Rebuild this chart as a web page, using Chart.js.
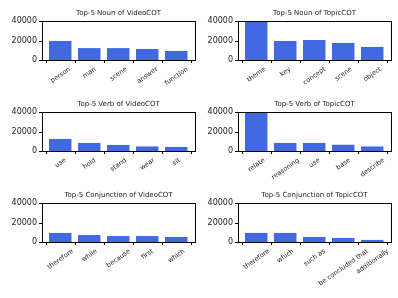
<!DOCTYPE html>
<html>
<head>
<meta charset="utf-8">
<script src="https://cdn.jsdelivr.net/npm/chart.js@4"></script>
<style>
  body { margin: 0; background: #fff; }
  #wrap { position: relative; width: 398px; height: 298px; }
  .panel { position: absolute; }
</style>
</head>
<body>
<div id="wrap"></div>
<script>
// data
const nounVideoLabels = ['person', 'man', 'scene', 'answer', 'function'];
const nounVideoValues = [19600, 12200, 12200, 11400, 9400];

const nounTopicLabels = ['theme', 'key', 'concept', 'scene', 'object'];
const nounTopicValues = [39300, 19600, 20500, 17800, 13500];

const verbVideoLabels = ['use', 'hold', 'stand', 'wear', 'sit'];
const verbVideoValues = [12500, 8400, 6400, 5000, 4400];

const verbTopicLabels = ['relate', 'reasoning', 'use', 'base', 'describe'];
const verbTopicValues = [39800, 8400, 8400, 6600, 5000];

const conjVideoLabels = ['therefore', 'while', 'because', 'first', 'which'];
const conjVideoValues = [9400, 7100, 6100, 6100, 5400];

const conjTopicLabels = ['therefore', 'which', 'such as', 'be concluded that', 'additionally'];
const conjTopicValues = [9500, 9500, 5400, 4400, 2300];

const yTicks = [0, 20000, 40000];

const panels = [
  { title: 'Top-5 Noun of VideoCOT', labels: nounVideoLabels, values: nounVideoValues, left: 0, top: 0, h: 95 },
  { title: 'Top-5 Noun of TopicCOT', labels: nounTopicLabels, values: nounTopicValues, left: 196, top: 0, h: 95 },
  { title: 'Top-5 Verb of VideoCOT', labels: verbVideoLabels, values: verbVideoValues, left: 0, top: 91, h: 95 },
  { title: 'Top-5 Verb of TopicCOT', labels: verbTopicLabels, values: verbTopicValues, left: 196, top: 91, h: 95 },
  { title: 'Top-5 Conjunction of VideoCOT', labels: conjVideoLabels, values: conjVideoValues, left: 0, top: 182, h: 116 },
  { title: 'Top-5 Conjunction of TopicCOT', labels: conjTopicLabels, values: conjTopicValues, left: 196, top: 182, h: 116 }
];

const FONT = 'DejaVu Sans';
const ROT = 35 * Math.PI / 180;
const XPAD = 4; // matplotlib-like margin between frame and outer bars

// full box around the plot area, y tick marks, title centred over it
const frame = {
  id: 'frame',
  afterDraw(chart, args, opts) {
    const a = chart.chartArea, ctx = chart.ctx;
    const l = Math.round(a.left - XPAD), r = Math.round(a.right + XPAD);
    ctx.save();
    ctx.strokeStyle = '#000';
    ctx.lineWidth = 1;
    ctx.strokeRect(l + 0.5, Math.round(a.top) + 0.5, r - l, Math.round(a.bottom - a.top));
    const sy = chart.scales.y;
    ctx.beginPath();
    yTicks.forEach(v => {
      const y = Math.round(sy.getPixelForValue(v)) + 0.5;
      ctx.moveTo(l + 0.5, y);
      ctx.lineTo(l - 3, y);
    });
    ctx.stroke();
    ctx.font = '7px "' + FONT + '"';
    ctx.fillStyle = '#222';
    ctx.textAlign = 'center';
    ctx.textBaseline = 'bottom';
    ctx.fillText(opts.text, (l + r) / 2, a.top - 4);
    ctx.restore();
  }
};

// rotated x labels centred under each tick, like matplotlib
const xLabels = {
  id: 'xLabels',
  afterDraw(chart) {
    const sx = chart.scales.x, ctx = chart.ctx;
    ctx.save();
    ctx.font = '6.5px "' + FONT + '"';
    ctx.fillStyle = '#222';
    ctx.textAlign = 'center';
    ctx.textBaseline = 'middle';
    const th = 6.5;
    chart.data.labels.forEach((lab, i) => {
      const w = ctx.measureText(lab).width;
      const x = sx.getPixelForTick(i);
      const bh = w * Math.sin(ROT) + th * Math.cos(ROT);
      const y = chart.chartArea.bottom + 6 + bh / 2;
      ctx.save();
      ctx.translate(x, y);
      ctx.rotate(-ROT);
      ctx.fillText(lab, 0, 0);
      ctx.restore();
    });
    ctx.restore();
  }
};

const wrap = document.getElementById('wrap');

panels.forEach(p => {
  const w = p.left === 0 ? 199 : 202;
  const c = document.createElement('canvas');
  c.className = 'panel';
  c.style.left = p.left + 'px';
  c.style.top = p.top + 'px';
  c.style.width = w + 'px';
  c.style.height = p.h + 'px';
  c.width = w;
  c.height = p.h;
  wrap.appendChild(c);

  new Chart(c, {
    type: 'bar',
    data: {
      labels: p.labels,
      datasets: [{
        data: p.values,
        backgroundColor: '#4169e1',
        borderColor: '#a9b9ef',
        borderWidth: { left: 0, top: 0, bottom: 0, right: 1 },
        barPercentage: 0.8,
        categoryPercentage: 1
      }]
    },
    options: {
      responsive: false,
      animation: false,
      layout: { padding: { top: 21, right: (p.left === 0 ? 4 : 7) + XPAD, left: 0, bottom: 0 } },
      plugins: {
        legend: { display: false },
        tooltip: { enabled: false },
        title: { display: false },
        frame: { text: p.title }
      },
      scales: {
        x: {
          grid: { display: true, drawOnChartArea: false, tickLength: 3, color: '#000' },
          border: { display: false },
          ticks: { display: false },
          afterFit(scale) { scale.height = p.h - 60; }
        },
        y: {
          min: 0,
          max: 40000,
          grid: { display: false, drawTicks: false },
          border: { display: false },
          afterBuildTicks(scale) { scale.ticks = yTicks.map(v => ({ value: v })); },
          ticks: {
            color: '#222',
            padding: 5 + XPAD,
            font: { family: FONT, size: 8 },
            callback: v => String(v)
          },
          afterFit(scale) { scale.width = 42 + XPAD; }
        }
      }
    },
    plugins: [frame, xLabels]
  });
});
</script>
</body>
</html>
